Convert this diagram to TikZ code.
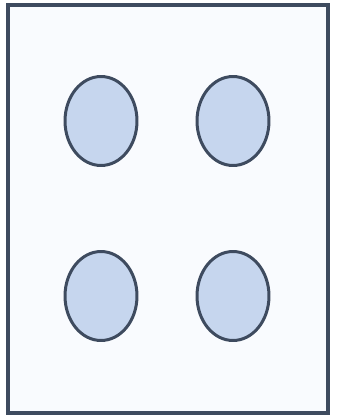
\documentclass[tikz,border=0pt]{standalone}
\usepackage{tikz}
\usetikzlibrary{positioning, shapes.geometric}
\usepackage{xcolor}
\definecolor{frameline}{HTML}{3E4B5F}
\definecolor{dotfill}{HTML}{C6D6EE}
\definecolor{pagefill}{HTML}{F9FBFE}
\tikzset{
    frame/.style={
        draw=frameline,
        fill=pagefill,
        line width=2.3pt
    },
    dot/.style={
        ellipse,
        draw=frameline,
        fill=dotfill,
        line width=1.7pt,
        minimum width=1.44cm,
        minimum height=1.78cm,
        inner sep=0pt
    }
}
\begin{document}
\begin{tikzpicture}[x=0.02cm,y=-0.02cm]

      \useasboundingbox (0,0) rectangle (337,419);
      \draw[frame] (8,5) rectangle (328,413);

      \node[dot] (TL) at (101,121) {};
      \node[dot] (TR) at (233,121) {};
      \node[dot] (BL) at (101,296) {};
      \node[dot] (BR) at (233,296) {};

    \end{tikzpicture}
\end{document}
